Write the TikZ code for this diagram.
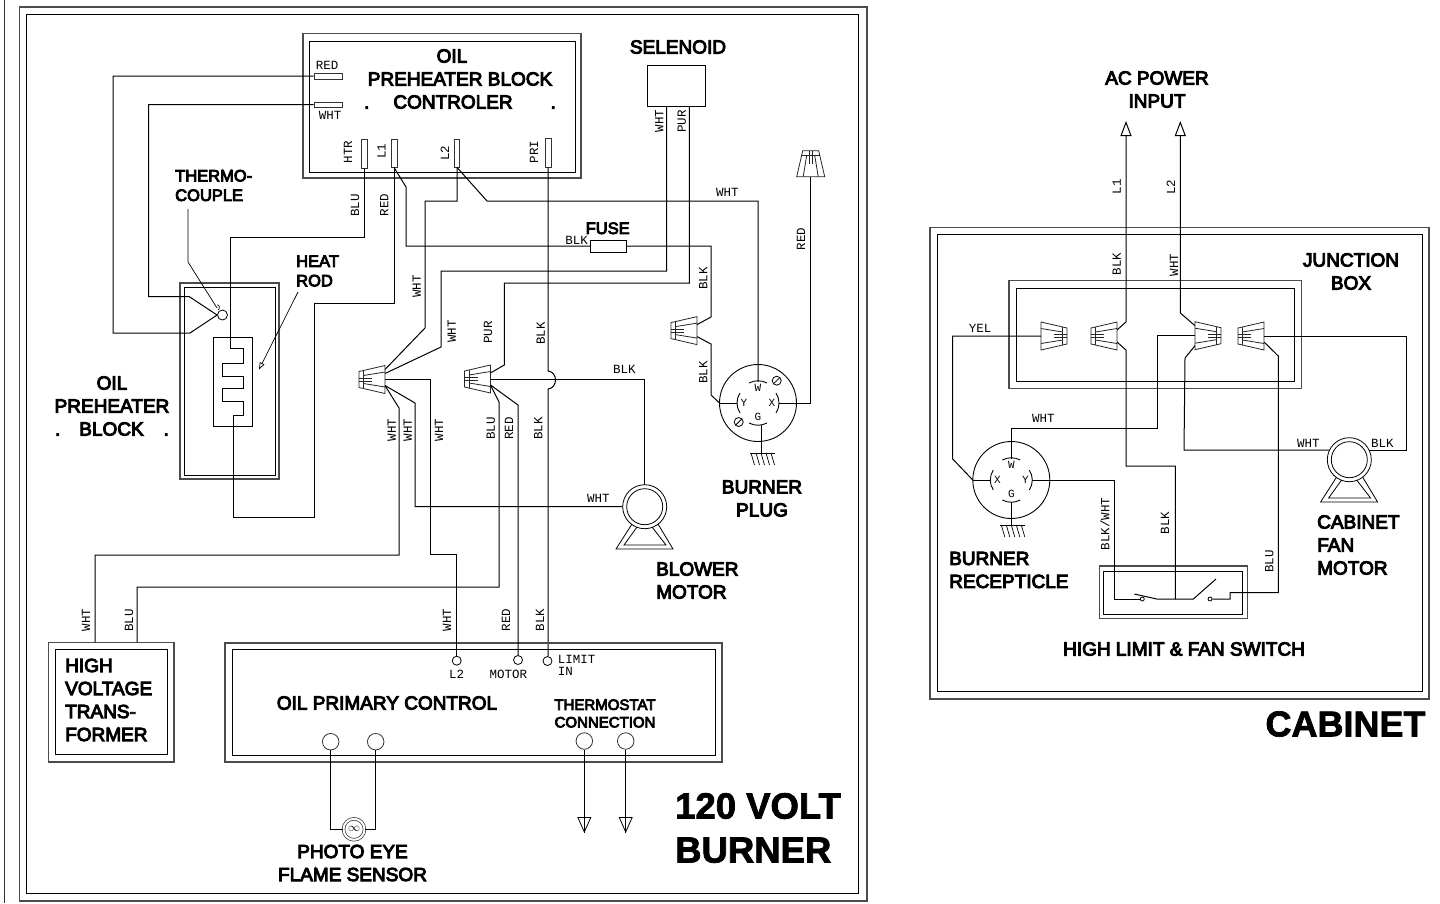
\documentclass[tikz,border=0pt]{standalone}
\usepackage{xcolor}
\usepackage{fontspec}
\usepackage{tikz}
\usetikzlibrary{calc}
\usetikzlibrary{arrows.meta}
\usetikzlibrary{positioning}
\newfontfamily\labelfont[FakeBold=5]{Liberation Sans}
\newfontfamily\titlefont[FakeBold=2]{Liberation Sans Bold}
\newfontfamily\tagfont{Liberation Mono}
\tikzstyle{wire} = [draw=black, line width=1pt, line join=miter]
\tikzstyle{outerbox} = [rectangle, draw=black!70, line width=1.2pt, inner sep=0pt]
\tikzstyle{innerbox} = [rectangle, draw=black, line width=1pt, inner sep=0pt]
\tikzstyle{termbar} = [rectangle, draw=black!80, line width=0.8pt, inner sep=0pt]
\tikzstyle{termdot} = [circle, draw=black, line width=0.8pt, inner sep=0pt, minimum size=9pt]
\tikzstyle{termbig} = [circle, draw=black!80, line width=0.8pt, inner sep=0pt, minimum size=16.5pt]
\tikzstyle{contact} = [circle, draw=black, line width=0.8pt, inner sep=0pt, minimum size=4pt]
\tikzstyle{lab} = [inner sep=0pt, align=center, font=\labelfont\fontsize{19}{23}\selectfont]
\tikzstyle{labl} = [inner sep=0pt, align=left, anchor=west, font=\labelfont\fontsize{19}{23}\selectfont]
\tikzstyle{labs} = [inner sep=0pt, align=left, anchor=west, font=\labelfont\fontsize{16.5}{19.5}\selectfont]
\tikzstyle{title} = [inner sep=0pt, align=left, anchor=west, font=\titlefont\fontsize{36.5}{44}\selectfont]
\tikzstyle{tag} = [inner sep=0pt, font=\tagfont\fontsize{12.5}{13}\selectfont]
\tikzstyle{tagv} = [tag, rotate=90]
\tikzstyle{openarrow} = [-{Triangle[open, length=15pt, width=11pt]}]
\tikzset{
  size/.style 2 args={minimum width=#1pt, minimum height=#2pt},
  wirenut/.pic={
    \draw [line width=0.8pt, black!85] (-13,-8) -- (13,-14) -- (13,14) -- (-13,8) -- cycle;
    \draw [line width=0.8pt, black!85] (-8.5,-9) -- (-8.5,9);
    \draw [line width=0.8pt, black!85] (-8.5,-4) -- (13,-7.5);
    \draw [line width=0.8pt, black!85] (-8.5,4) -- (13,7.5);
    \draw [line width=0.8pt, black!85] (-13,-1.5) -- (0,-1.5);
    \draw [line width=0.8pt, black!85] (-13,1.5) -- (0,1.5);
    \coordinate (-up2) at (13,-10);
    \coordinate (-up1) at (13,-6);
    \coordinate (-mid) at (13,0);
    \coordinate (-low1) at (13,6);
    \coordinate (-low2) at (13,10);
  },
  motor/.pic={
    \draw [line width=0.8pt] (0,0) circle (22pt);
    \draw [line width=0.8pt] (0,0) circle (18pt);
    \draw [line width=0.8pt] (-12.7,17.3) -- (-28.7,42.3) -- (28.3,42.3) -- (13.3,17.3);
    \draw [line width=0.8pt] (-7.7,20.3) -- (-20.7,38.3) -- (21.3,38.3) -- (7.3,20.3);
    \coordinate (-left) at (-22,0);
    \coordinate (-top) at (0,-22);
    \coordinate (-ul) at (-20,-9.7);
    \coordinate (-ur) at (20,-9.7);
  },
  ground/.pic={
    \draw [line width=0.8pt] (-11,0) -- (14,0);
    \foreach \hx in {-10,-5,0,5,10} {
      \draw [line width=0.7pt] (\hx,0) -- ({\hx+3.5},12);
    }
    \coordinate (-top) at (0,0);
  },
  pics/receptacle/.style args={#1/#2/#3}{code={
    \draw [line width=0.9pt] (0,0) circle (38.5pt);
    \draw [line width=0.9pt] (-38.5,0) -- (-21,0);
    \draw [line width=0.9pt] (38.5,0) -- (21,0);
    \draw [line width=0.9pt] (-18,-10) .. controls (-22,-4) and (-22,4) .. (-18,10);
    \draw [line width=0.9pt] (18,-10) .. controls (22,-4) and (22,4) .. (18,10);
    \draw [line width=0.9pt] (-9,-20) .. controls (-3,-23) and (3,-23) .. (9,-20);
    \draw [line width=0.9pt] (-9,20) .. controls (-3,23) and (3,23) .. (9,20);
    \node [tag, font=\tagfont\fontsize{11}{12}\selectfont] (-lettW) at (0,-15) {W};
    \node [tag, font=\tagfont\fontsize{11}{12}\selectfont] (-lettL) at (-14,0) {#1};
    \node [tag, font=\tagfont\fontsize{11}{12}\selectfont] (-lettR) at (14,0) {#2};
    \node [tag, font=\tagfont\fontsize{11}{12}\selectfont] (-lettG) at (0,14) {G};
    \coordinate (-W) at (0,-21);
    \coordinate (-left) at (-38.5,0);
    \coordinate (-right) at (38.5,0);
    \coordinate (-G) at (#3,21.5);
  }},
  slashdot/.pic={
    \draw [line width=0.8pt] (0,0) circle (4.5pt);
    \draw [line width=0.8pt] (-3,3) -- (3,-3);
  }
}

\begin{document}
\begin{tikzpicture}[x=1pt, y=-1pt]
\useasboundingbox [fill=white] (0,0) rectangle (1440,903);
\coordinate (edgeT) at (4.5,0);
\coordinate (edgeB) at (4.5,903);
\draw [line width=0.9pt, black!80] (edgeT) -- (edgeB);

\node [outerbox, size={847.5}{894}] (burnerOuter) at (443.25,454) {};
\node [innerbox, size={832}{878.5}] (burnerInner) at (442,453.75) {};

\node [outerbox, size={278}{144.5}] (ctlOuter) at (442,105.75) {};
\node [innerbox, size={266}{131}] (ctlInner) at (442,107) {};
\node [lab] (ctlText) at (460,79) {OIL\hspace*{16pt}\\PREHEATER BLOCK\\.\hspace{24pt}CONTROLER\hspace{38pt}.};
\node [termbar, size={28}{6}] (ctlRed) at (328,76) {};
\node [termbar, size={28}{5}] (ctlWht) at (328,104.5) {};
\node [termbar, size={6}{29}] (ctlHtr) at (364,153.5) {};
\node [termbar, size={6}{28}] (ctlL1) at (394,153) {};
\node [termbar, size={5.5}{28}] (ctlL2) at (457,153) {};
\node [termbar, size={6}{29}] (ctlPri) at (548,152.5) {};
\node [tag] (tagRed) at (327,65) {RED};
\node [tag] (tagWht) at (330,115) {WHT};
\node [tagv] (tagHtr) at (348,152) {HTR};
\node [tagv] (tagL1) at (381.5,151) {L1};
\node [tagv] (tagL2) at (445,153) {L2};
\node [tagv] (tagPri) at (534,152) {PRI};

\node [lab] (selText) at (678,47) {SELENOID};
\node [innerbox, size={57.7}{41}] (sel) at (676.8,86.2) {};
\coordinate (selW) at (666.7,106.7);
\coordinate (selP) at (689.3,106.7);
\node [tagv] (tagSelW) at (659.3,121) {WHT};
\node [tagv] (tagSelP) at (681.7,121.3) {PUR};

\node [outerbox, size={99}{196}] (heatOuter) at (229.5,381) {};
\node [innerbox, size={91}{188.5}] (heatInner) at (230,381.3) {};
\node [innerbox, size={38.5}{88.5}] (rodBox) at (233.2,382) {};
\node [circle, draw=black, line width=0.8pt, inner sep=0pt, minimum size=10pt] (tcBulb) at (222.5,315) {};
\node [labs] (thermoText) at (175,185.5) {THERMO-\\COUPLE};
\node [labs] (rodText) at (296,271) {HEAT\\ROD};
\node [lab] (heatText) at (112,406) {OIL\\PREHEATER\\.\hspace{19pt}BLOCK\hspace{20pt}.};
\coordinate (thermoLead) at (188,209);
\coordinate (rodLead) at (298,292);
\coordinate (rodTip) at (259,369.5);
\draw [line width=0.7pt] (thermoLead) -- (188,262) -- (217,308);
\draw [line width=0.7pt] (217,305) .. controls (220,304) and (220,309) .. (218,310);
\draw [line width=0.7pt, -{Triangle[open, length=7pt, width=5pt]}] (rodLead) -- (rodTip);

\draw [wire] (ctlRed.west) -- (113,76) -- (113,333) -- (190,333) -- (tcBulb.west);
\draw [wire] (ctlWht.west) -- (148.5,104.5) -- (148.5,296.5) -- (189,296.5) -- (tcBulb.west);
\draw [wire] (ctlHtr.south) -- (364,237) -- (230,237) -- (230,348) -- (243,348) -- (243,363) -- (222.5,363) -- (222.5,376) -- (243,376) -- (243,388) -- (222.5,388) -- (222.5,401.5) -- (243,401.5) -- (243,415) -- (233.5,415) -- (233.5,517) -- (314,517) -- (314,303) -- (394,303) -- (ctlL1.south);
\node [tagv] (tagBlu) at (355,205.7) {BLU};
\node [tagv] (tagRedB) at (384.3,205) {RED};

\node [innerbox, size={36}{12}] (fuse) at (608.7,246) {};
\node [labs, anchor=center] (fuseText) at (607.7,228.3) {FUSE};
\node [tag] (tagFuse) at (576.7,240) {BLK};
\draw [wire] (ctlL1.south) -- (406,187) -- (406,246) -- (fuse.west);

\pic (nutA) at (372,379.5) {wirenut};
\pic (nutB) at (477.5,379) {wirenut};
\pic (nutC) at (684,330.6) {wirenut};
\pic (nutT) [rotate=-90] at (810.7,163.7) {wirenut};
\pic (plug) at (758,403) {receptacle={Y/X/3}};
\pic (plugGnd) at (761,453) {ground};
\pic at (776.7,380.7) {slashdot};
\pic at (738.7,422) {slashdot};
\pic (blower) at (644.7,506.7) {motor};

\draw [wire] (fuse.east) -- (711,246) -- (711,317) -- (nutC-up1);
\draw [wire] (nutC-low1) -- (711,344) -- (711,395) -- (plug-left);
\draw [wire] (ctlL2.south) -- (457,201) -- (425,201) -- (425,328) -- (nutA-up2);
\draw [wire] (ctlL2.south) -- (487,201) -- (758,201) -- (plug-W);
\draw [wire] (ctlPri.south) -- (548,371) .. controls (558,372) and (558,388) .. (548,389) -- (548,656);
\draw [wire] (selW) -- (666.7,271) -- (441,271) -- (441,347) -- (nutA-up1);
\draw [wire] (selP) -- (689.3,283) -- (504.3,283) -- (504.3,365) -- (nutB-up1);
\draw [wire] (nutB-mid) -- (644.7,379) -- (blower-top);
\draw [wire] (plug-right) -- (810.7,403) -- (nutT-mid);
\draw [wire] (plug-G) -- (plugGnd-top);
\node [tag] (tagWhtA) at (727.3,192.7) {WHT};
\node [tagv] (tagBlkA) at (703.3,278.3) {BLK};
\node [tagv] (tagBlkB) at (703.3,372.5) {BLK};
\node [tagv] (tagRedC) at (801,239) {RED};
\node [tagv] (tagWhtB) at (416.7,286.7) {WHT};
\node [tagv] (tagWhtC) at (451.7,331.7) {WHT};
\node [tagv] (tagPur) at (488,332.7) {PUR};
\node [tagv] (tagBlkC) at (540.7,333.3) {BLK};
\node [tag] (tagBlkD) at (624.3,369) {BLK};
\node [tagv] (tagWhtD) at (391.7,430) {WHT};
\node [tagv] (tagWhtE) at (407.7,430) {WHT};
\node [tagv] (tagWhtF) at (439,430) {WHT};
\node [tagv] (tagBluB) at (490.7,428.3) {BLU};
\node [tagv] (tagRedD) at (509,428.3) {RED};
\node [tagv] (tagBlkE) at (538.3,428.3) {BLK};
\node [tag] (tagWhtG) at (598.3,498.3) {WHT};
\node [lab] (plugText) at (762,498.5) {BURNER\\PLUG};
\node [labl] (blowerText) at (656,580.5) {BLOWER\\MOTOR};

\node [outerbox, size={125.7}{119.7}] (hvOuter) at (111.2,702.2) {};
\node [innerbox, size={112}{104.7}] (hvInner) at (111.3,702.3) {};
\node [labl] (hvText) at (65,700) {HIGH\\VOLTAGE\\TRANS-\\FORMER};
\coordinate (hvW) at (95,642.3);
\coordinate (hvB) at (137,642.3);
\node [tagv] (tagHvW) at (86,620) {WHT};
\node [tagv] (tagHvB) at (129,620.7) {BLU};

\node [outerbox, size={497}{119}] (pcOuter) at (473.5,702.5) {};
\node [innerbox, size={483.5}{106}] (pcInner) at (474,702.5) {};
\node [termdot] (pcL2) at (456.7,660.7) {};
\node [termdot] (pcMotor) at (518,660) {};
\node [termdot] (pcLimit) at (547.5,661) {};
\node [tag] (tagPcL2) at (456.7,674) {L2};
\node [tag] (tagPcMotor) at (508.3,674) {MOTOR};
\node [tag, anchor=west] (tagPcLimit) at (557.7,659) {LIMIT};
\node [tag, anchor=west] (tagPcIn) at (557.7,671.7) {IN};
\node [lab] (pcText) at (387,703) {OIL PRIMARY CONTROL};
\node [lab, font=\labelfont\fontsize{15}{17.5}\selectfont] (thText) at (605,713.5) {THERMOSTAT\\CONNECTION};
\node [termbig] (pcEye1) at (330.7,741.7) {};
\node [termbig] (pcEye2) at (375.7,741.7) {};
\node [termbig] (pcTh1) at (584.3,741) {};
\node [termbig] (pcTh2) at (625.7,741) {};
\coordinate (th1End) at (584.3,833);
\coordinate (th2End) at (625.7,833);
\draw [wire] (pcTh1.south) -- (th1End);
\draw [wire] (pcTh2.south) -- (th2End);
\draw [line width=0.8pt, -{Triangle[open, length=16pt, width=14pt]}] (pcTh1.south) -- (th1End);
\draw [line width=0.8pt, -{Triangle[open, length=16pt, width=14pt]}] (pcTh2.south) -- (th2End);

\node [circle, draw=black!80, double, double distance=2pt, line width=0.7pt, inner sep=0pt, minimum size=21pt, font=\large] (eye) at (354,829.3) {$\infty$};
\draw [wire] (pcEye1.south) -- (330.7,829.3) -- (eye.west);
\draw [wire] (pcEye2.south) -- (375.7,829.3) -- (eye.east);
\node [lab] (eyeText) at (352.5,863) {PHOTO EYE\\FLAME SENSOR};
\node [title] (burnerText) at (675,828) {120 VOLT\\BURNER};

\draw [wire] (nutB-low1) -- (499,402) -- (499,587) -- (137,587) -- (hvB);
\draw [wire] (nutB-low1) -- (518,405) -- (pcMotor.north);
\draw [wire] (nutA-low1) -- (399,408) -- (399,555) -- (95,555) -- (hvW);
\draw [wire] (nutA-low1) -- (415,403) -- (415,506.7) -- (blower-left);
\draw [wire] (nutA-mid) -- (430,379.5) -- (430,554) -- (456.7,554) -- (pcL2.north);
\node [tagv] (tagPcW) at (447,620) {WHT};
\node [tagv] (tagPcR) at (506,620) {RED};
\node [tagv] (tagPcB) at (540,620) {BLK};

\node [outerbox, size={499}{471.7}] (cabOuter) at (1179.5,463.2) {};
\node [innerbox, size={485}{457.4}] (cabInner) at (1179.8,463) {};
\node [lab] (acText) at (1157,89.5) {AC POWER\\INPUT};
\coordinate (acL1) at (1126,121);
\coordinate (acL2) at (1180.3,121);
\node [tagv] (tagAcL1) at (1116.7,186.7) {L1};
\node [tagv] (tagAcL2) at (1171,187) {L2};
\node [tagv] (tagAcB) at (1116.7,264) {BLK};
\node [tagv] (tagAcW) at (1174,265) {WHT};

\node [outerbox, size={292.7}{107.6}] (jbOuter) at (1155.4,334.5) {};
\node [innerbox, size={277.3}{92.7}] (jbInner) at (1155.4,334.7) {};
\node [lab] (jbText) at (1351,271.5) {JUNCTION\\BOX};

\pic (nutP) [xscale=-1] at (1054,336) {wirenut};
\pic (nutQ) at (1104,336) {wirenut};
\pic (nutR) [xscale=-1] at (1208,335.7) {wirenut};
\pic (nutS) at (1251,336) {wirenut};
\pic (recep) at (1011.3,480) {receptacle={X/Y/0}};
\pic (recepGnd) at (1011.3,525) {ground};
\pic (fan) at (1349.3,459.7) {motor};

\node [outerbox, size={148}{52.3}] (swOuter) at (1173.3,592.2) {};
\node [innerbox, size={138.7}{43.3}] (swInner) at (1173.3,592.7) {};
\node [contact] (swL) at (1142.3,599) {};
\node [contact] (swR) at (1210,599) {};
\coordinate (swMid) at (1175.3,599);
\draw [wire] (1134.3,594) -- (1156.7,599) -- (1193.3,599) -- (1216,579);

\draw [wire, openarrow] (nutQ-up1) -- (1126,322) -- (acL1);
\draw [wire, openarrow] (nutR-up2) -- (1180.3,313) -- (acL2);
\draw [wire] (nutP-mid) -- (952.7,336) -- (952.7,459) -- (recep-left);
\draw [wire] (nutQ-low1) -- (1126,350) -- (1126,466) -- (1175.3,466) -- (swMid);
\draw [wire] (nutR-mid) -- (1157.3,335.7) -- (1157.3,428.3) -- (1011.3,428.3) -- (recep-W);
\draw [wire] (nutR-low2) -- (1185,358) -- (1184,450) -- (fan-ul);
\draw [wire] (nutS-mid) -- (1406.3,336) -- (1406.3,450) -- (fan-ur);
\draw [wire] (nutS-low1) -- (1278.3,356) -- (1278.3,592.7) -- (1230,592.7) -- (1230,599) -- (swR.east);
\draw [wire] (recep-right) -- (1114.3,480) -- (1114.3,599) -- (swL.west);
\draw [wire] (recep-G) -- (recepGnd-top);

\node [tag] (tagYel) at (980,328.3) {YEL};
\node [tag] (tagWhtH) at (1043.3,418.3) {WHT};
\node [tag] (tagWhtI) at (1308.3,443.3) {WHT};
\node [tag] (tagBlkF) at (1382.3,443.3) {BLK};
\node [tagv] (tagBw) at (1105,524) {BLK/WHT};
\node [tagv] (tagBlkG) at (1165,523) {BLK};
\node [tagv] (tagBluC) at (1269.3,561.7) {BLU};
\node [labl] (recepText) at (949,570) {BURNER\\RECEPTICLE};
\node [labl] (fanText) at (1317,545) {CABINET\\FAN\\MOTOR};
\node [lab] (swText) at (1184,649) {HIGH LIMIT \& FAN SWITCH};
\node [title, anchor=center, font=\titlefont\fontsize{36}{44}\selectfont] (cabText) at (1345.5,724) {CABINET};
\end{tikzpicture}
\end{document}
